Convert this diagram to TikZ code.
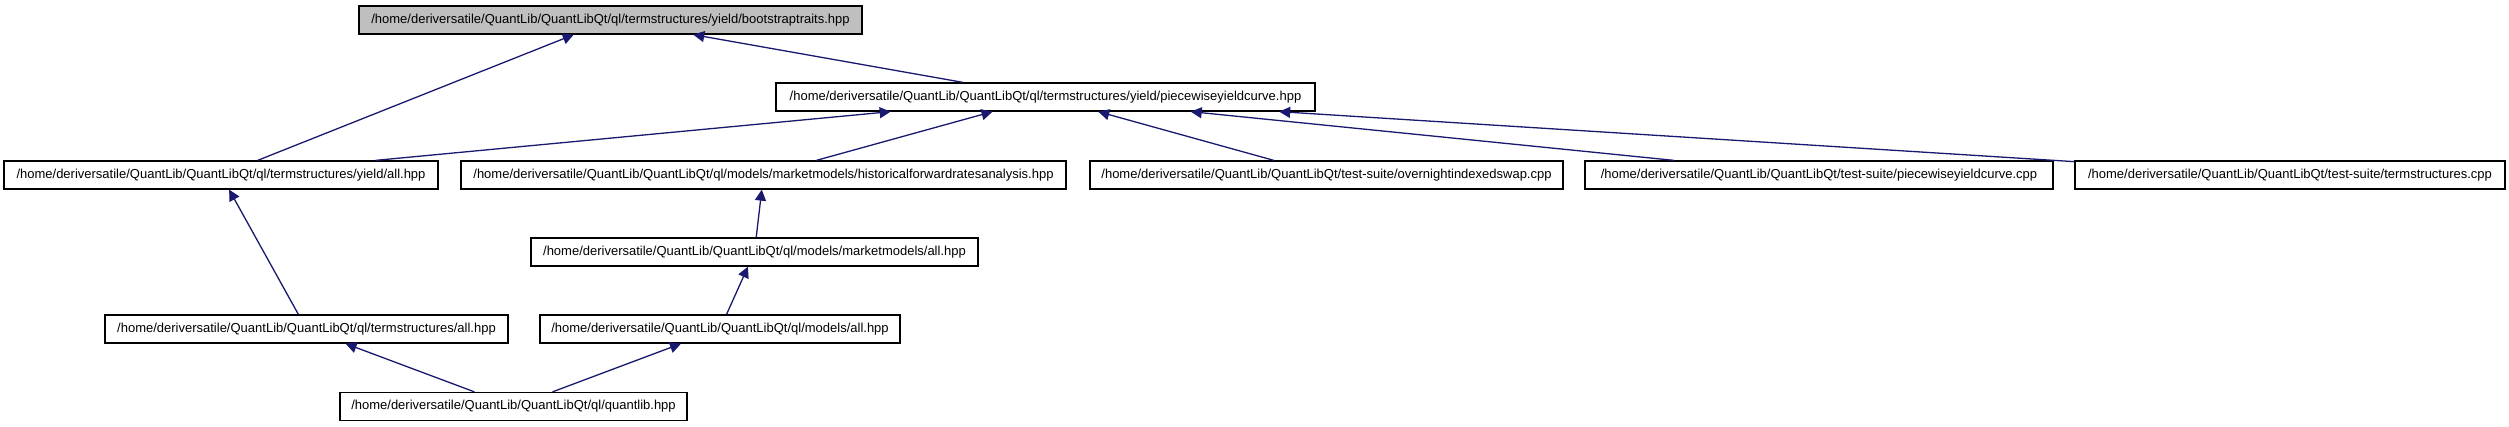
\documentclass[tikz,border=0pt]{standalone}
\usepackage{fontspec}
\setmainfont{Liberation Sans}
\usetikzlibrary{arrows.meta}
\definecolor{edgeblue}{HTML}{191970}
\definecolor{rootgray}{HTML}{BFBFBF}
\begin{document}
\begin{tikzpicture}[x=1pt,y=-1pt,
  file/.style={draw=black, line width=1.3pt, minimum height=28pt, inner xsep=2pt, inner ysep=0pt,
    font=\fontsize{13}{15}\selectfont, anchor=center},
  edge/.style={draw=edgeblue, line width=1.3pt, -{Triangle[length=11pt,width=11pt]}}]
\useasboundingbox (0,0) rectangle (2509,427);
\fill[white] (0,0) rectangle (2509,427);

\node[file, fill=rootgray, minimum width=503pt] (boot) at (610.5,20) {/home/deriversatile/QuantLib/QuantLibQt/ql/termstructures/yield/bootstraptraits.hpp};
\node[file, minimum width=539pt] (pwh) at (1045.5,97) {/home/deriversatile/QuantLib/QuantLibQt/ql/termstructures/yield/piecewiseyieldcurve.hpp};
\node[file, minimum width=434pt] (yall) at (221,175) {/home/deriversatile/QuantLib/QuantLibQt/ql/termstructures/yield/all.hpp};
\node[file, minimum width=605pt] (hist) at (763.5,175) {/home/deriversatile/QuantLib/QuantLibQt/ql/models/marketmodels/historicalforwardratesanalysis.hpp};
\node[file, minimum width=473pt] (ovn) at (1326.5,175) {/home/deriversatile/QuantLib/QuantLibQt/test-suite/overnightindexedswap.cpp};
\node[file, minimum width=468pt] (pwc) at (1819,175) {/home/deriversatile/QuantLib/QuantLibQt/test-suite/piecewiseyieldcurve.cpp};
\node[file, minimum width=430pt] (tsc) at (2290,175) {/home/deriversatile/QuantLib/QuantLibQt/test-suite/termstructures.cpp};
\node[file, minimum width=447pt] (mmall) at (754.5,252) {/home/deriversatile/QuantLib/QuantLibQt/ql/models/marketmodels/all.hpp};
\node[file, minimum width=403pt] (tsall) at (306.5,329) {/home/deriversatile/QuantLib/QuantLibQt/ql/termstructures/all.hpp};
\node[file, minimum width=360pt] (mall) at (720,329) {/home/deriversatile/QuantLib/QuantLibQt/ql/models/all.hpp};
\node[file, minimum width=347pt] (qlib) at (513.5,406.5) {/home/deriversatile/QuantLib/QuantLibQt/ql/quantlib.hpp};

\draw[edge] (yall) -- (boot);
\draw[edge] (pwh) -- (boot);
\draw[edge] (yall) -- (pwh);
\draw[edge] (hist) -- (pwh);
\draw[edge] (ovn) -- (pwh);
\draw[edge] (pwc) -- (pwh);
\draw[edge] (tsc) -- (pwh);
\draw[edge] (mmall) -- (hist);
\draw[edge] (tsall) -- (yall);
\draw[edge] (mall) -- (mmall);
\draw[edge] (qlib) -- (tsall);
\draw[edge] (qlib) -- (mall);
\end{tikzpicture}
\end{document}
